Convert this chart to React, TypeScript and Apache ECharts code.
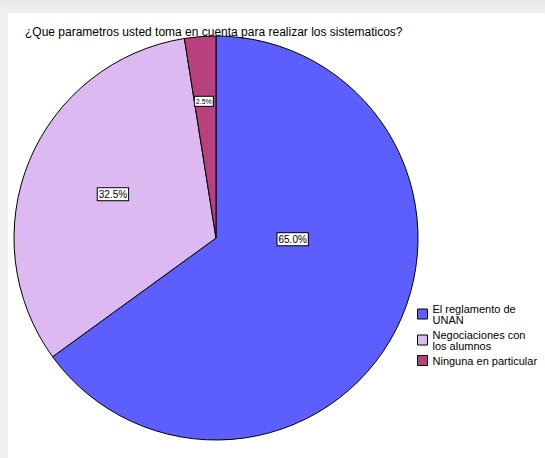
import React, { useEffect, useRef } from "react";
import * as echarts from "echarts";

const titleText = "¿Que parametros usted toma en cuenta para realizar los sistematicos?";
const categories = ["El reglamento de UNAN", "Negociaciones con los alumnos", "Ninguna en particular"];
const legendLabels = ["El reglamento de\nUNAN", "Negociaciones con\nlos alumnos", "Ninguna en particular"];
const percents = [65.0, 32.5, 2.5];
const colors = ["#5c5ffe", "#ddb9f2", "#b8407c"];
const labelFont = [10, 10, 7];
const labelShift = [
  [-16, -46],
  [-7, -4],
  [-4, -33],
];

export default function App() {
  const ref = useRef<HTMLDivElement>(null);
  useEffect(() => {
    if (!ref.current) return;
    const chart = echarts.init(ref.current, undefined, { renderer: "svg" });
    const font = "Arial, 'Liberation Sans', sans-serif";
    chart.setOption({
      animation: false,
      backgroundColor: "#ffffff",
      title: {
        text: titleText,
        left: 12,
        top: 8,
        textStyle: { fontSize: 12, fontWeight: "normal", color: "#000", fontFamily: font },
      },
      legend: {
        orient: "vertical",
        left: 404,
        top: 285,
        itemWidth: 10,
        itemHeight: 10,
        itemGap: 4,
        icon: "rect",
        itemStyle: { borderColor: "#000", borderWidth: 1 },
        textStyle: { fontSize: 11, lineHeight: 11, color: "#000", fontFamily: font },
        formatter: (name: string) => legendLabels[categories.indexOf(name)],
        data: categories,
      },
      series: [
        {
          type: "pie",
          center: [208, 225],
          radius: [0, 202],
          startAngle: 90,
          clockwise: true,
          label: {
            show: true,
            position: "inside",
            color: "#000",
            backgroundColor: "#fff",
            borderColor: "#000",
            borderWidth: 1,
            padding: [1, 1],
            fontFamily: font,
            formatter: (p: any) => p.value.toFixed(1) + "%",
          },
          labelLayout: (p: any) => ({ dx: labelShift[p.dataIndex][0], dy: labelShift[p.dataIndex][1] }),
          labelLine: { show: false },
          itemStyle: { borderColor: "#000", borderWidth: 1 },
          emphasis: { disabled: true },
          data: categories.map((c, i) => ({
            name: c,
            value: percents[i],
            itemStyle: { color: colors[i] },
            label: { fontSize: labelFont[i] },
          })),
        },
      ],
    });
    return () => chart.dispose();
  }, []);
  return (
    <div
      style={{
        position: "fixed",
        left: 0,
        top: 0,
        width: 545,
        height: 458,
        background: "linear-gradient(to bottom, #e9e9e9 0px, #f1f1f1 13px, #efefef 14px)",
      }}
    >
      <div ref={ref} style={{ position: "absolute", left: 8, top: 13, width: 537, height: 445 }} />
    </div>
  );
}
